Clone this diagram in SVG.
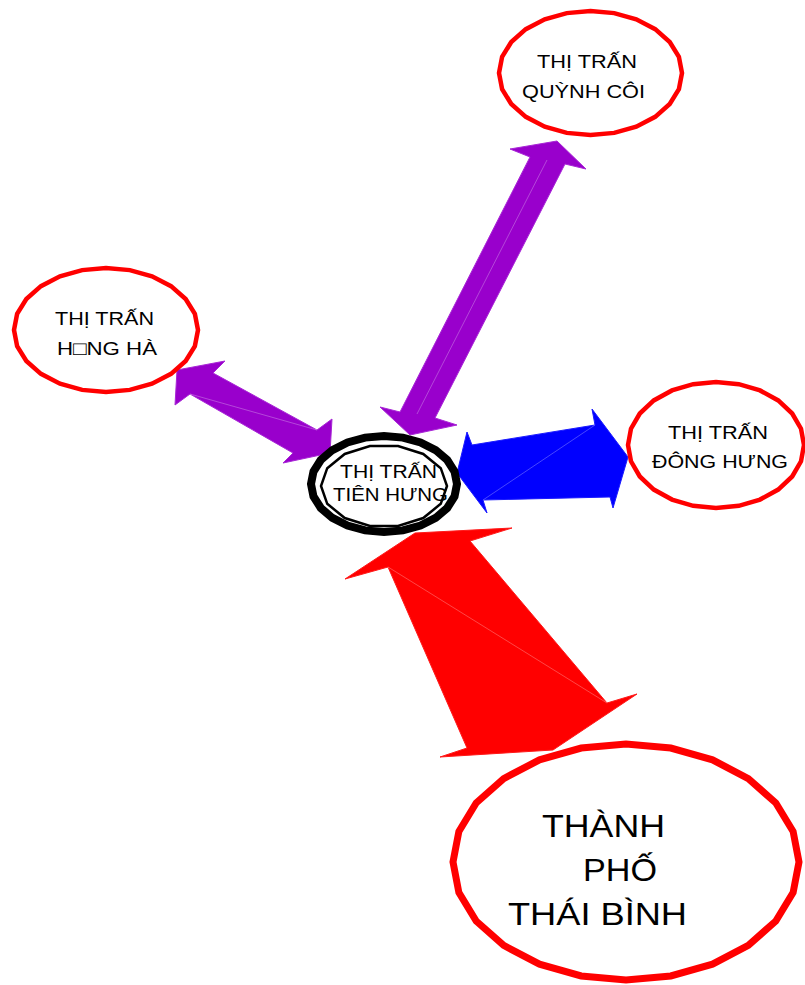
<svg xmlns="http://www.w3.org/2000/svg" xmlns:xlink="http://www.w3.org/1999/xlink" width="805" height="985" viewBox="0 0 805 985">
<style>
.lbl{font-family:"Liberation Sans",Arial,sans-serif;fill:#000;}
.s{font-size:19px;}
.m{font-size:17.5px;}
.b{font-size:31px;}
.ring{fill:#fff;stroke:#ff0000;stroke-linejoin:miter;}
.seam{stroke:#ffffff;stroke-opacity:0.35;stroke-width:0.8;fill:none;}
</style>
<defs>
<polygon id="g24" vector-effect="non-scaling-stroke" points="1,0 .966,.259 .866,.5 .707,.707 .5,.866 .259,.966 0,1 -.259,.966 -.5,.866 -.707,.707 -.866,.5 -.966,.259 -1,0 -.966,-.259 -.866,-.5 -.707,-.707 -.5,-.866 -.259,-.966 0,-1 .259,-.966 .5,-.866 .707,-.707 .866,-.5 .966,-.259"/>
<polygon id="g14" vector-effect="non-scaling-stroke" points="1,0 .901,.434 .623,.782 .223,.975 -.223,.975 -.623,.782 -.901,.434 -1,0 -.901,-.434 -.623,-.782 -.223,-.975 .223,-.975 .623,-.782 .901,-.434"/>
</defs>
<rect width="805" height="985" fill="#ffffff"/>
<g id="connectors">
<g id="arrow-quynhcoi">
<polygon fill="#9900cc" stroke="#a826d6" stroke-width="1" points="557,141 586,169 565,164 435,418 457,425 410,435 380,407 400,412 530,157 510,149"/>
<line class="seam" x1="547" y1="160" x2="417" y2="414"/>
</g>
<g id="arrow-hungha">
<polygon fill="#9900cc" stroke="#a826d6" stroke-width="1" points="225,361 213,373 317,430 332,419 330,453 283,463 293,453 190,394 175,405 177,370"/>
<line class="seam" x1="190" y1="394" x2="317" y2="430"/>
</g>
<g id="arrow-donghung">
<polygon fill="#0000ff" stroke="#1a1aff" stroke-width="1" points="467,432 472,445 595,425 592,409 628,457 613,508 610,497 483,500 487,513 457,473"/>
<line class="seam" x1="483" y1="500" x2="595" y2="425"/>
</g>
<g id="arrow-thaibinh">
<polygon fill="#ff0000" stroke="#ff1a1a" stroke-width="1" points="415,533 512,528 470,541 607,703 637,694 553,750 440,757 467,748 388,567 345,579"/>
<line class="seam" x1="388" y1="567" x2="607" y2="703"/>
</g>
</g>
<g id="node-quynhcoi">
<use xlink:href="#g24" class="ring" stroke-width="4.5" transform="translate(590.5,73) scale(91.5,62)"/>
<text class="lbl s" x="537" y="68" textLength="100" lengthAdjust="spacingAndGlyphs">THỊ TRẤN</text>
<text class="lbl s" x="522" y="98" textLength="123" lengthAdjust="spacingAndGlyphs">QUỲNH CÔI</text>
</g>
<g id="node-hungha">
<use xlink:href="#g24" class="ring" stroke-width="4.5" transform="translate(106,330) scale(92,62)"/>
<text class="lbl s" x="55" y="325" textLength="99" lengthAdjust="spacingAndGlyphs">THỊ TRẤN</text>
<text class="lbl s" x="57" y="355" textLength="100" lengthAdjust="spacingAndGlyphs">H□NG HÀ</text>
</g>
<g id="node-donghung">
<use xlink:href="#g24" class="ring" stroke-width="4.5" transform="translate(716,445) scale(88,63)"/>
<text class="lbl s" x="668" y="439" textLength="100" lengthAdjust="spacingAndGlyphs">THỊ TRẤN</text>
<text class="lbl s" x="652" y="468" textLength="136" lengthAdjust="spacingAndGlyphs">ĐÔNG HƯNG</text>
</g>
<g id="node-thaibinh">
<use xlink:href="#g24" class="ring" stroke-width="7" transform="translate(626,862) scale(173,118)"/>
<text class="lbl b" x="542" y="837" textLength="123" lengthAdjust="spacingAndGlyphs">THÀNH</text>
<text class="lbl b" x="583" y="881" textLength="74" lengthAdjust="spacingAndGlyphs">PHỐ</text>
<text class="lbl b" x="508" y="925" textLength="179" lengthAdjust="spacingAndGlyphs">THÁI BÌNH</text>
</g>
<g id="node-tienhung">
<use xlink:href="#g24" fill="#fff" stroke="#000" stroke-width="8" transform="translate(384,484) scale(73,48)"/>
<use xlink:href="#g14" fill="none" stroke="#000" stroke-width="2.5" transform="translate(384,486) scale(63,41)"/>
<text class="lbl m" x="340" y="478" textLength="97" lengthAdjust="spacingAndGlyphs">THỊ TRẤN</text>
<text class="lbl m" x="333" y="501" textLength="115" lengthAdjust="spacingAndGlyphs">TIÊN HƯNG</text>
</g>
</svg>
